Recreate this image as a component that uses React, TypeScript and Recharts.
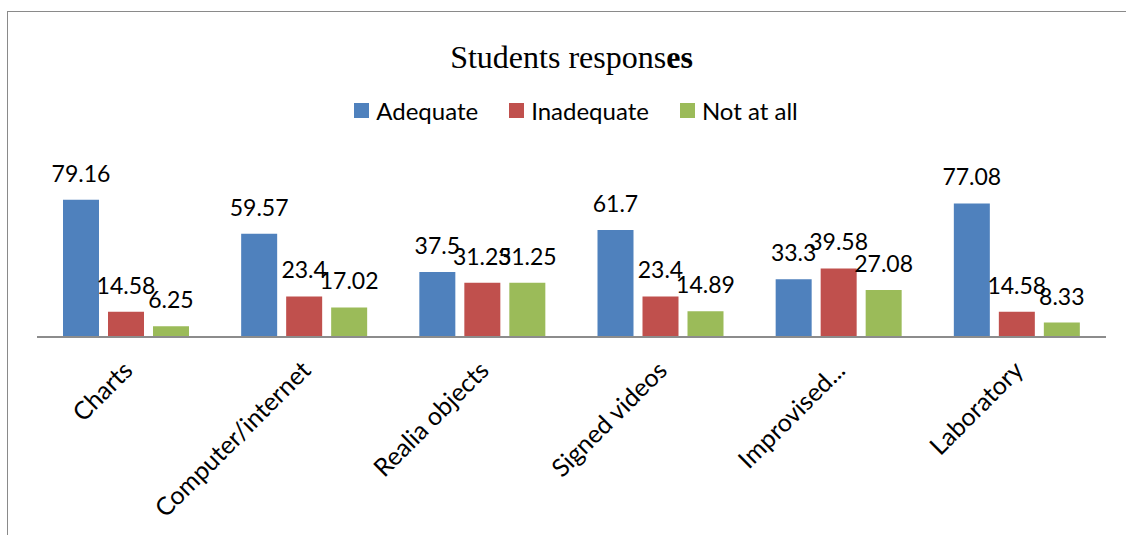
import { BarChart, Bar, XAxis, YAxis, Legend, LabelList } from "recharts";

// categories and the three response series (percent)
const categories = [
  "Charts",
  "Computer/internet",
  "Realia objects",
  "Signed videos",
  "Improvised...",
  "Laboratory",
];
const adequate = [79.16, 59.57, 37.5, 61.7, 33.3, 77.08];
const inadequate = [14.58, 23.4, 31.25, 23.4, 39.58, 14.58];
const notAtAll = [6.25, 17.02, 31.25, 14.89, 27.08, 8.33];

const seriesNames = ["Adequate", "Inadequate", "Not at all"];
const COLORS = ["#4F81BD", "#C0504D", "#9BBB59"];

const data = categories.map((name, i) => ({
  name,
  adequate: adequate[i],
  inadequate: inadequate[i],
  notAtAll: notAtAll[i],
}));

const LABEL_FONT = "Lato, 'DejaVu Sans', sans-serif";

// rotated category labels, like Excel's -45 degree text
const CategoryTick = ({ x, y, payload }: any) => (
  <text
    transform={`translate(${x + 8},${y + 35}) rotate(-45)`}
    textAnchor="end"
    fontFamily={LABEL_FONT}
    fontSize={25}
    fill="#000"
  >
    {payload.value}
  </text>
);

const ValueLabel = ({ x, y, width, value }: any) => (
  <text
    x={x + width / 2}
    y={y - 18}
    textAnchor="middle"
    fontFamily={LABEL_FONT}
    fontSize={23}
    fill="#000"
  >
    {value}
  </text>
);

const LegendBox = () => (
  <div
    style={{
      display: "flex",
      justifyContent: "center",
      alignItems: "center",
      fontFamily: LABEL_FONT,
      fontSize: 24,
      color: "#000",
      gap: 31,
    }}
  >
    {seriesNames.map((s, i) => (
      <div key={s} style={{ display: "flex", alignItems: "center" }}>
        <span
          style={{
            width: 15,
            height: 15,
            background: COLORS[i],
            display: "inline-block",
            marginRight: 7,
          }}
        />
        <span>{s}</span>
      </div>
    ))}
  </div>
);

export default function App() {
  return (
    <div
      style={{
        position: "absolute",
        left: 0,
        top: 0,
        width: 1126,
        height: 535,
        overflow: "hidden",
        background: "#fff",
      }}
    >
      {/* chart frame, only left and top edges are in view */}
      <div
        style={{
          position: "absolute",
          left: 7,
          top: 11,
          width: 1300,
          height: 700,
          border: "1.5px solid #8a8a8a",
        }}
      />
      <div
        style={{
          position: "absolute",
          left: 0,
          width: 1143,
          top: 39,
          textAlign: "center",
          fontFamily: "'Liberation Serif', 'Times New Roman', serif",
          fontSize: 32,
          color: "#000",
        }}
      >
        Students respons<b>es</b>
      </div>
      <div style={{ position: "absolute", left: 0, top: 0 }}>
        <BarChart
          width={1126}
          height={535}
          data={data}
          margin={{ top: 181, right: 20, bottom: 0, left: 37 }}
          barSize={36}
          barGap={9}
          barCategoryGap={26}
        >
          <XAxis
            dataKey="name"
            height={198}
            interval={0}
            tickLine={false}
            tickSize={0}
            tickMargin={0}
            axisLine={{ stroke: "#8c8c8c", strokeWidth: 2 }}
            tick={<CategoryTick />}
          />
          <YAxis hide domain={[0, 90]} />
          <Legend
            layout="horizontal"
            verticalAlign="middle"
            align="center"
            wrapperStyle={{ top: 96, left: 0, width: 1152 }}
            content={<LegendBox />}
          />
          <Bar dataKey="adequate" name={seriesNames[0]} fill={COLORS[0]} isAnimationActive={false}>
            <LabelList dataKey="adequate" content={<ValueLabel />} />
          </Bar>
          <Bar dataKey="inadequate" name={seriesNames[1]} fill={COLORS[1]} isAnimationActive={false}>
            <LabelList dataKey="inadequate" content={<ValueLabel />} />
          </Bar>
          <Bar dataKey="notAtAll" name={seriesNames[2]} fill={COLORS[2]} isAnimationActive={false}>
            <LabelList dataKey="notAtAll" content={<ValueLabel />} />
          </Bar>
        </BarChart>
      </div>
    </div>
  );
}
